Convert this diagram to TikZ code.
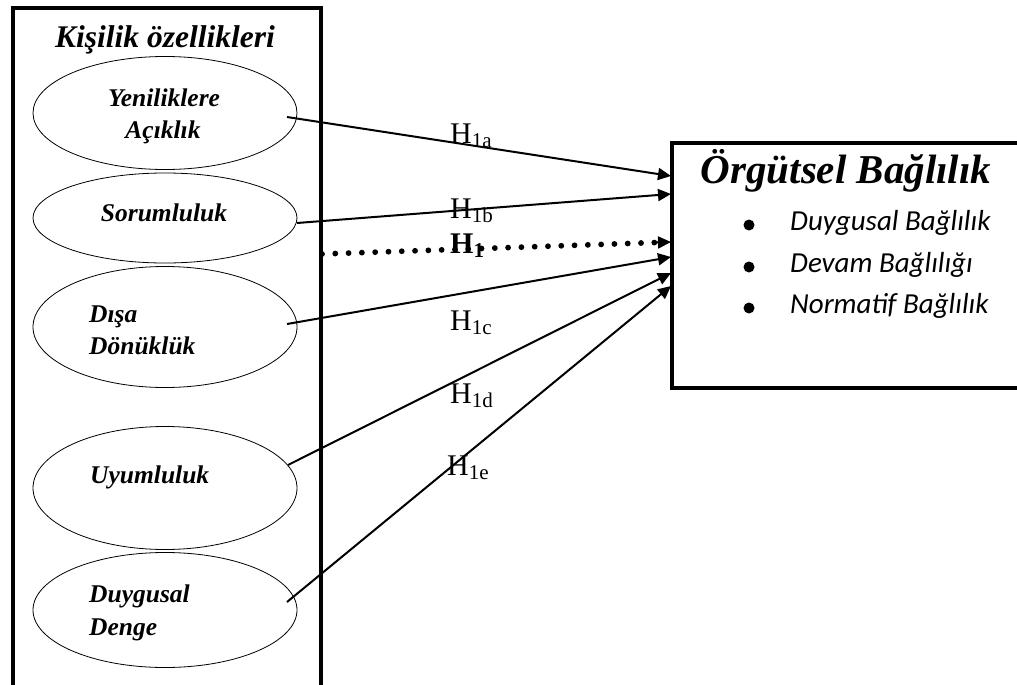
\documentclass[tikz,border=0pt]{standalone}
\usepackage{fontspec}
\setmainfont{Liberation Serif}
\newfontfamily\carl{Carlito}
\usetikzlibrary{shapes.geometric,arrows.meta,calc}
\newcommand{\hsub}[1]{\raisebox{-0.3ex}{\fontsize{21}{21}\selectfont #1}}
\begin{document}
\begin{tikzpicture}[x=1pt,y=-1pt,
  trait/.style={draw,line width=0.8pt,ellipse,minimum width=264pt,inner sep=0pt},
  ttext/.style={font=\fontsize{25.5}{32}\selectfont\bfseries\itshape,inner sep=0pt,anchor=base},
  ltext/.style={ttext,anchor=base west},
  arr/.style={line width=2pt,-{Triangle[length=13pt,width=12pt]}},
  hyp/.style={font=\fontsize{30}{32}\selectfont,inner sep=0pt,anchor=base west},
  bul/.style={font=\carl\fontsize{29}{32}\selectfont\itshape,inner sep=0pt,anchor=base west},
  frame/.style={line width=4pt}]
\useasboundingbox (0,0) rectangle (1017,685);
% left frame
\draw[frame] (13,690) -- (13,8) -- (321,8) -- (321,690);
\node[font=\fontsize{31.5}{34}\selectfont\bfseries\itshape,inner sep=0pt,anchor=base] (title) at (165,48) {Kişilik özellikleri};
% ellipses
\node[trait,minimum height=113pt] (e1) at (165,113) {};
\node[trait,minimum height=90pt] (e2) at (165,218) {};
\node[trait,minimum height=121pt] (e3) at (165,327) {};
\node[trait,minimum height=123pt] (e4) at (165,488) {};
\node[trait,minimum height=115pt] (e5) at (165,610) {};
\node[ttext] (t1a) at (164,106) {Yeniliklere};
\node[ttext] (t1b) at (163,138) {Açıklık};
\node[ttext] (t2) at (164,221) {Sorumluluk};
\node[ltext] (t3a) at (89,322) {Dışa};
\node[ltext] (t3b) at (89,354) {Dönüklük};
\node[ltext] (t4) at (90,483) {Uyumluluk};
\node[ltext] (t5a) at (89,602) {Duygusal};
\node[ltext] (t5b) at (89,635) {Denge};
% right frame
\draw[frame] (1020,143) -- (672,143) -- (672,388) -- (1020,388);
\node[font=\fontsize{41}{44}\selectfont\bfseries\itshape,inner sep=0pt,anchor=base] (oc) at (846,183) {Örgütsel Bağlılık};
\node[bul] (b1) at (790,230) {Duygusal Bağlılık};
\node[bul] (b2) at (790,272) {Devam Bağlılığı};
\node[bul] (b3) at (790,313) {Normatif Bağlılık};
\fill (749,225) circle (5.5pt) (749,267) circle (5.5pt) (749,308) circle (5.5pt);
% connector coordinates
\coordinate (s1) at (287,117);
\coordinate (s2) at (297,223);
\coordinate (s0) at (322,254);
\coordinate (s3) at (287,324);
\coordinate (s4) at (288,465);
\coordinate (s5) at (287,602);
\coordinate (d1) at (671,176);
\coordinate (d2) at (671,194);
\coordinate (d0) at (671,242);
\coordinate (d3) at (671,257);
\coordinate (d4) at (671,273);
\coordinate (d5) at (671,286);
\coordinate (m0) at ($(d0)!14pt!(s0)$);
\draw[arr] (s1) -- (d1);
\draw[arr] (s2) -- (d2);
\draw[line width=5.8pt,dash pattern=on 0pt off 13.3pt,line cap=round] (s0) -- (m0);
\draw[arr] (m0) -- (d0);
\draw[arr] (s3) -- (d3);
\draw[arr] (s4) -- (d4);
\draw[arr] (s5) -- (d5);
% labels
\node[hyp] (h1) at (450,143) {H\hsub{1a}};
\node[hyp] (h2) at (450,218) {H\hsub{1b}};
\node[hyp,font=\fontsize{30}{32}\selectfont\bfseries] (h0) at (450,253) {H\hsub{1}};
\node[hyp] (h3) at (450,330) {H\hsub{1c}};
\node[hyp] (h4) at (450,403) {H\hsub{1d}};
\node[hyp] (h5) at (447,475) {H\hsub{1e}};
\end{tikzpicture}
\end{document}
